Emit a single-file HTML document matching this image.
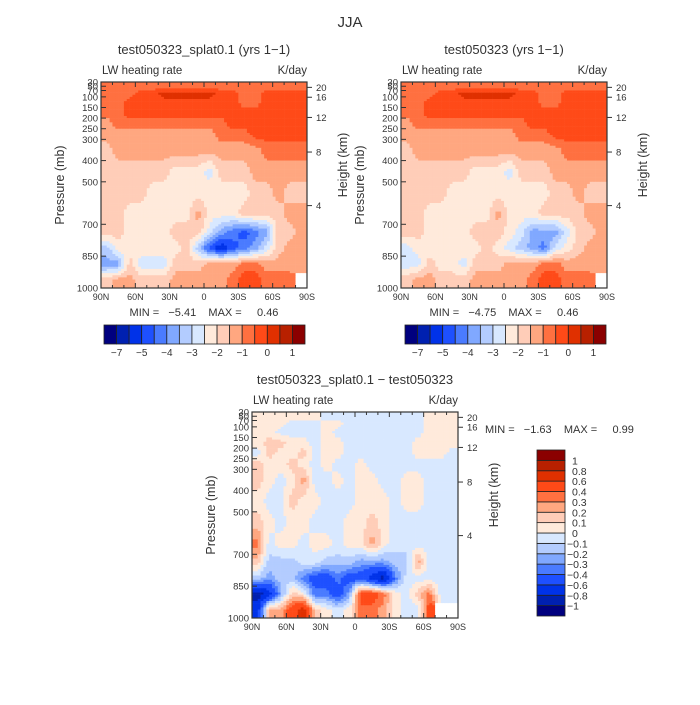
<!DOCTYPE html>
<html><head><meta charset="utf-8"><style>
html,body{margin:0;padding:0;background:#fff}
svg text{font-family:"Liberation Sans",sans-serif;fill:#333}
</style></head><body>
<svg id="chart" width="700" height="700" viewBox="0 0 700 700" xmlns="http://www.w3.org/2000/svg">
<rect width="700" height="700" fill="#fff"/>
<text x="350" y="27" font-size="15" text-anchor="middle">JJA</text>
</svg>
<script>
// ---- data ----
const latTicks = ["90N","60N","30N","0","30S","60S","90S"];
const pTicks = [30,50,70,100,150,200,250,300,400,500,700,850,1000];
const zTicks = [20,16,12,8,4];
const zTickFrac = [0.026,0.074,0.172,0.34,0.6];
const pBounds = [30,70,100,150,200,250,300,400,500,600,700,775,850,925,1000];
const levelsTop = [-7,-6,-5,-4.5,-4,-3.5,-3,-2.5,-2,-1.5,-1,-0.5,0,0.5,1];
const cbLabelsTop = [-7,-5,-4,-3,-2,-1,0,1];
const levelsDiff = [-1,-0.8,-0.6,-0.4,-0.3,-0.2,-0.1,0,0.1,0.2,0.3,0.4,0.6,0.8,1];
const palette = ["#00007f","#0020b0","#0032e8","#1e50ff","#4a7bff","#80a8ff","#b3ccff","#d8e8ff","#ffeadb","#ffcdb8","#ffa780","#ff7040","#ff4a18","#e03000","#b82000","#8b0000"];

const fieldA = [
[-0.75,-0.75,-0.75,-0.75,-0.75,-0.75,-0.75,-0.75,-0.75,-0.75,-0.75,-0.75,-0.75,-0.75,-0.75,-0.75,-0.75,-0.75],
[-0.75,-0.75,-0.75,-0.25,-0.25,0.25,0.25,0.25,0.25,0.25,-0.25,-0.25,-0.75,-0.75,-0.25,-0.25,-0.25,-0.25],
[-0.75,-0.75,-0.25,-0.25,-0.25,-0.25,-0.25,-0.25,-0.25,-0.25,-0.25,-0.25,-0.75,-0.75,-0.25,-0.25,-0.25,-0.25],
[-0.75,-0.75,-0.25,-0.25,-0.25,-0.25,-0.25,-0.25,-0.25,-0.25,-0.25,-0.25,-0.25,-0.25,-0.25,-0.25,-0.25,-0.25],
[-1.25,-0.75,-0.75,-0.75,-0.75,-0.75,-0.75,-0.75,-0.75,-0.75,-0.75,-0.25,-0.25,-0.25,-0.25,-0.25,-0.25,-0.25],
[-1.25,-1.25,-1.25,-1.25,-1.25,-1.25,-1.25,-1.25,-1.25,-1.25,-0.75,-0.75,-0.75,-0.25,-0.25,-0.25,-0.25,-0.25],
[-1.75,-1.25,-1.25,-1.25,-1.25,-1.25,-1.25,-1.25,-1.25,-1.25,-1.25,-1.25,-1.25,-1.25,-0.75,-0.75,-0.75,-0.75],
[-1.75,-1.75,-1.75,-1.75,-1.75,-1.75,-2.25,-2.25,-2.25,-2.75,-1.75,-1.75,-1.75,-1.25,-1.25,-1.25,-1.25,-1.25],
[-1.75,-1.75,-1.75,-1.75,-2.25,-2.25,-2.25,-2.25,-2.25,-2.25,-2.25,-2.25,-2.25,-1.75,-1.75,-1.25,-1.75,-1.75],
[-1.75,-1.75,-2.25,-2.25,-2.25,-2.25,-2.25,-2.25,-1.25,-2.25,-2.25,-2.25,-1.75,-1.75,-1.75,-1.75,-1.25,-1.25],
[-1.75,-1.75,-2.25,-2.25,-2.25,-2.25,-1.75,-1.75,-1.75,-2.75,-3.75,-4.25,-4.75,-4.25,-3.75,-1.75,-1.75,-1.25],
[-3.25,-2.25,-2.25,-2.25,-2.25,-2.25,-2.25,-1.75,-3.25,-4.75,-5.5,-4.75,-4.25,-3.75,-2.75,-1.75,-1.25,-1.25],
[-3.75,-3.75,-1.75,-2.75,-2.75,-2.75,-1.75,-1.75,-1.75,-1.25,-1.25,-1.25,-0.75,-0.75,-1.25,-1.25,-1.25,-1.25],
[-1.75,-1.25,-1.25,-1.75,-1.75,-1.75,-1.25,-1.25,-1.25,-1.25,-1.25,-0.75,-0.25,-0.25,-0.75,-0.75,-0.75,null]
];
const fieldB = [
[-0.75,-0.75,-0.75,-0.75,-0.75,-0.75,-0.75,-0.75,-0.75,-0.75,-0.75,-0.75,-0.75,-0.75,-0.75,-0.75,-0.75,-0.75],
[-0.75,-0.75,-0.75,-0.25,-0.25,0.25,0.25,0.25,0.25,0.25,-0.25,-0.25,-0.75,-0.75,-0.25,-0.25,-0.25,-0.25],
[-0.75,-0.75,-0.25,-0.25,-0.25,-0.25,-0.25,-0.25,-0.25,-0.25,-0.25,-0.25,-0.75,-0.75,-0.25,-0.25,-0.25,-0.25],
[-0.75,-0.75,-0.25,-0.25,-0.25,-0.25,-0.25,-0.25,-0.25,-0.25,-0.25,-0.25,-0.25,-0.25,-0.25,-0.25,-0.25,-0.25],
[-1.25,-0.75,-0.75,-0.75,-0.75,-0.75,-0.75,-0.75,-0.75,-0.75,-0.75,-0.25,-0.25,-0.25,-0.25,-0.25,-0.25,-0.25],
[-1.25,-1.25,-1.25,-1.25,-1.25,-1.25,-1.25,-1.25,-1.25,-1.25,-0.75,-0.75,-0.75,-0.25,-0.25,-0.25,-0.25,-0.25],
[-1.75,-1.25,-1.25,-1.25,-1.25,-1.25,-1.25,-1.25,-1.25,-1.25,-1.25,-1.25,-1.25,-1.25,-0.75,-0.75,-0.75,-0.75],
[-1.75,-1.75,-1.75,-1.75,-1.75,-1.75,-2.25,-2.25,-2.25,-2.75,-1.75,-1.75,-1.75,-1.25,-1.25,-1.25,-1.25,-1.25],
[-1.75,-1.75,-1.75,-1.75,-2.25,-2.25,-2.25,-2.25,-2.25,-2.25,-2.25,-2.25,-2.25,-1.75,-1.75,-1.25,-1.75,-1.75],
[-1.75,-1.75,-2.25,-2.25,-2.25,-2.25,-2.25,-2.25,-1.25,-2.25,-2.25,-2.25,-1.75,-1.75,-1.75,-1.75,-1.25,-1.25],
[-1.75,-1.75,-2.25,-2.25,-2.25,-2.25,-1.75,-1.75,-1.75,-2.25,-2.75,-3.75,-3.75,-3.75,-2.75,-1.75,-1.75,-1.25],
[-2.75,-2.25,-2.25,-2.25,-2.25,-2.25,-2.25,-1.75,-2.25,-2.75,-3.25,-3.75,-4.25,-2.75,-2.25,-1.75,-1.25,-1.25],
[-2.75,-2.75,-1.75,-2.25,-2.25,-2.75,-1.75,-1.75,-1.75,-1.25,-1.25,-1.25,-0.75,-0.75,-1.25,-1.25,-1.25,-1.25],
[-1.75,-1.25,-1.25,-1.75,-1.75,-1.75,-1.25,-1.25,-1.25,-1.25,-1.25,-0.75,-0.25,-0.25,-0.75,-0.75,-0.75,null]
];
const fieldDiff = [
[0.05,0.05,0.05,0.05,0.05,0.05,-0.05,-0.05,-0.05,-0.05,-0.05,-0.05,-0.05,-0.05,-0.05,0.05,0.05,0.05],
[0.05,0.05,0.05,-0.05,-0.05,-0.05,0.05,0.05,-0.05,-0.05,-0.05,-0.05,-0.05,-0.05,-0.05,0.05,0.05,0.05],
[0.05,0.05,-0.05,-0.05,-0.05,-0.05,0.05,-0.05,-0.05,-0.05,-0.05,-0.05,-0.05,-0.05,-0.05,0.05,0.05,0.05],
[0.05,0.15,0.15,0.05,0.05,-0.05,0.05,0.05,-0.05,-0.05,-0.05,-0.05,-0.05,-0.05,0.05,0.05,0.05,0.05],
[-0.05,0.15,0.05,0.05,0.15,-0.05,0.05,0.05,-0.05,-0.05,-0.05,-0.05,-0.05,-0.05,0.05,0.05,0.05,-0.05],
[0.15,0.05,0.05,0.15,0.05,-0.05,0.05,-0.05,-0.05,0.05,-0.05,-0.05,-0.05,-0.05,-0.05,-0.05,-0.05,-0.05],
[0.15,0.05,-0.05,0.05,0.25,-0.05,-0.05,0.05,-0.05,0.05,0.05,-0.05,-0.05,0.05,0.05,-0.05,-0.05,-0.05],
[0.05,-0.05,-0.05,0.15,0.05,0.05,-0.05,-0.05,-0.05,0.05,0.05,0.05,-0.05,0.05,0.05,-0.05,-0.05,-0.05],
[0.15,0.05,-0.05,0.05,0.05,-0.05,-0.05,-0.05,0.05,0.05,0.15,0.05,-0.05,-0.05,-0.05,-0.05,-0.05,-0.05],
[0.35,-0.05,0.05,0.05,-0.05,0.05,0.05,-0.05,0.05,0.05,0.25,0.05,-0.05,-0.05,-0.05,-0.05,-0.05,-0.05],
[0.15,-0.15,-0.15,-0.15,-0.05,-0.05,-0.15,-0.15,-0.15,-0.25,-0.25,-0.25,-0.15,-0.15,0.25,-0.05,-0.05,-0.05],
[-0.15,-0.25,-0.15,-0.15,-0.35,-0.5,-0.5,-0.35,-0.5,-0.5,-0.7,-0.9,-0.35,-0.05,-0.05,-0.05,-0.05,-0.05],
[-0.9,-0.7,-0.25,0.15,0.05,-0.35,-0.35,-0.5,-0.25,0.5,0.5,0.35,0.05,-0.05,0.15,0.35,-0.05,-0.05],
[-0.7,0.25,0.25,0.5,0.7,0.15,0.05,-0.05,0.05,0.35,0.35,0.25,0.05,-0.05,-0.05,0.5,null,null]
];

// ---- drawing ----
const NS = "http://www.w3.org/2000/svg";
const svg = document.getElementById("chart");
function mk(tag, attrs, parent){ const e=document.createElementNS(NS,tag); for(const k in attrs) e.setAttribute(k,attrs[k]); (parent||svg).appendChild(e); return e; }
function colorFor(v, levels){ let k=0; while(k<levels.length && v>=levels[k]) k++; return palette[k]; }

// bilinear sampling of the gridded field (rendering only)
function sample(field, lat, p){
  const nrow = field.length, ncol = field[0].length;
  let cc = (90 - lat) / (180/ncol) - 0.5;
  cc = Math.max(0, Math.min(ncol-1, cc));
  const centers = [];
  for(let r=0;r<nrow;r++) centers.push((pBounds[r]+pBounds[r+1])/2);
  let rr;
  if(p <= centers[0]) rr = 0;
  else if(p >= centers[nrow-1]) rr = nrow-1;
  else { let r=0; while(centers[r+1] < p) r++; rr = r + (p-centers[r])/(centers[r+1]-centers[r]); }
  // null check on nearest cell
  let ri = 0; while(ri < nrow-1 && p > pBounds[ri+1]) ri++;
  let ci = Math.min(ncol-1, Math.floor((90-lat)/(180/ncol)));
  if(field[ri][ci] === null) return null;
  const c0 = Math.floor(cc), c1 = Math.min(ncol-1, c0+1), fc = cc-c0;
  const r0 = Math.floor(rr), r1 = Math.min(nrow-1, r0+1), fr = rr-r0;
  const g = (r,c) => { const v = field[r][c]; return v===null ? field[ri][ci] : v; };
  const top = g(r0,c0)*(1-fc) + g(r0,c1)*fc;
  const bot = g(r1,c0)*(1-fc) + g(r1,c1)*fc;
  return top*(1-fr) + bot*fr;
}

function drawPanel(px, py, w, h, field, levels, title, name){
  const g = mk("g",{});
  
  
  const xScale = lat => px + (90 - lat) / 180 * w;
  const yScale = p => py + (p - 30) / 970 * h;
  const dLat = 2.5, dP = 10;
  for(let p=30; p<1000; p+=dP){
    for(let lat=90; lat>-90; lat-=dLat){
      const v = sample(field, lat - dLat/2, p + dP/2);
      const x0 = xScale(lat), x1 = xScale(lat-dLat), y0 = yScale(p), y1 = yScale(Math.min(1000,p+dP));
      const cell = mk("rect",{x:x0.toFixed(2), y:y0.toFixed(2), width:(x1-x0+0.3).toFixed(2), height:(y1-y0+0.3).toFixed(2), fill: v===null ? "#fff" : colorFor(v, levels)}, g);
      
      
    }
  }
  const frame = mk("rect",{x:px,y:py,width:w,height:h,fill:"none",stroke:"#333","stroke-width":1.2}, g);
  
  
  for(let lat=90; lat>=-90; lat-=10){
    const x = xScale(lat); const major = lat%30===0;
    mk("line",{x1:x,y1:py+h,x2:x,y2:py+h-(major?5:3),stroke:"#333"}, g);
    mk("line",{x1:x,y1:py,x2:x,y2:py+(major?5:3),stroke:"#333"}, g);
  }
  latTicks.forEach((lab,i) => {
    const t = mk("text",{x:xScale(90-i*30), y:py+h+12, "font-size":9, "text-anchor":"middle"}, g);
    
    
    t.textContent = lab;
  });
  pTicks.forEach(p => {
    const y = yScale(p);
    mk("line",{x1:px,y1:y,x2:px+5,y2:y,stroke:"#333"}, g);
    const t = mk("text",{x:px-3, y:y+3.5, "font-size":9.5, "text-anchor":"end"}, g);
    
    
    t.textContent = p;
  });
  zTicks.forEach((z,i) => {
    const y = py + zTickFrac[i]*h;
    mk("line",{x1:px+w,y1:y,x2:px+w+5,y2:y,stroke:"#333"}, g);
    const t = mk("text",{x:px+w+9, y:y+3.5, "font-size":9.5}, g);
    
    
    t.textContent = z;
  });
  const tt = mk("text",{x:px+w/2, y:py-28, "font-size":13, "text-anchor":"middle"}, g);
  
  
  tt.textContent = title;
  const l1 = mk("text",{x:px+1, y:py-8, "font-size":11.5}, g);
  
  
  l1.textContent = "LW heating rate";
  const l2 = mk("text",{x:px+w, y:py-8, "font-size":11.5, "text-anchor":"end"}, g);
  
  
  l2.textContent = "K/day";
  const ya = mk("text",{x:0,y:0,"font-size":12.5,"text-anchor":"middle",transform:`translate(${px-37},${py+h/2}) rotate(-90)`}, g);
  
  
  ya.textContent = "Pressure (mb)";
  const yb = mk("text",{x:0,y:0,"font-size":12.5,"text-anchor":"middle",transform:`translate(${px+w+40},${py+h/2-20}) rotate(-90)`}, g);
  
  
  yb.textContent = "Height (km)";
}

function hColorbar(x, y, w, h, name){
  const g = mk("g",{});
  
  
  const bw = w / palette.length;
  palette.forEach((c,i) => {
    const r = mk("rect",{x:x+i*bw,y:y,width:bw,height:h,fill:c,stroke:"#222","stroke-width":0.8}, g);
    
    
  });
  cbLabelsTop.forEach(v => {
    const idx = levelsTop.indexOf(v) + 1;
    const t = mk("text",{x:x+idx*bw, y:y+h+12, "font-size":10, "text-anchor":"middle"}, g);
    
    
    t.textContent = v < 0 ? "\u2212" + Math.abs(v) : String(v);
  });
}
function vColorbar(x, y, w, h, name){
  const g = mk("g",{});
  
  
  const bh = h / palette.length;
  palette.forEach((c,i) => {
    const r = mk("rect",{x:x,y:y+h-(i+1)*bh,width:w,height:bh,fill:c,stroke:"#222","stroke-width":0.8}, g);
    
    
  });
  levelsDiff.forEach((v,i) => {
    const t = mk("text",{x:x+w+(v<0?2:7), y:y+h-(i+1)*bh+4, "font-size":10.5}, g);
    
    
    t.textContent = v < 0 ? "\u2212" + Math.abs(v) : String(v);
  });
}
function txt(x,y,s,size,name,anchor){
  const t = mk("text",{x:x,y:y,"font-size":size,"text-anchor":anchor||"start"});
  
  
  t.style.whiteSpace = "pre";
  t.textContent = s;
}

drawPanel(101, 82, 206, 206, fieldA, levelsTop, "test050323_splat0.1 (yrs 1\u22121)", "panel-splat");
drawPanel(401, 82, 206, 206, fieldB, levelsTop, "test050323 (yrs 1\u22121)", "panel-control");
drawPanel(252, 412, 206, 206, fieldDiff, levelsDiff, "test050323_splat0.1 \u2212 test050323", "panel-difference");

txt(204, 316, "MIN =   \u22125.41    MAX =     0.46", 11, "min-max-splat", "middle");
txt(504, 316, "MIN =   \u22124.75    MAX =     0.46", 11, "min-max-control", "middle");
txt(485, 433, "MIN =   \u22121.63    MAX =     0.99", 11, "min-max-difference");

hColorbar(104, 325, 201, 19, "colorbar-splat");
hColorbar(405, 325, 201, 19, "colorbar-control");
vColorbar(537, 450, 28, 166, "colorbar-difference");
</script>
</body></html>
